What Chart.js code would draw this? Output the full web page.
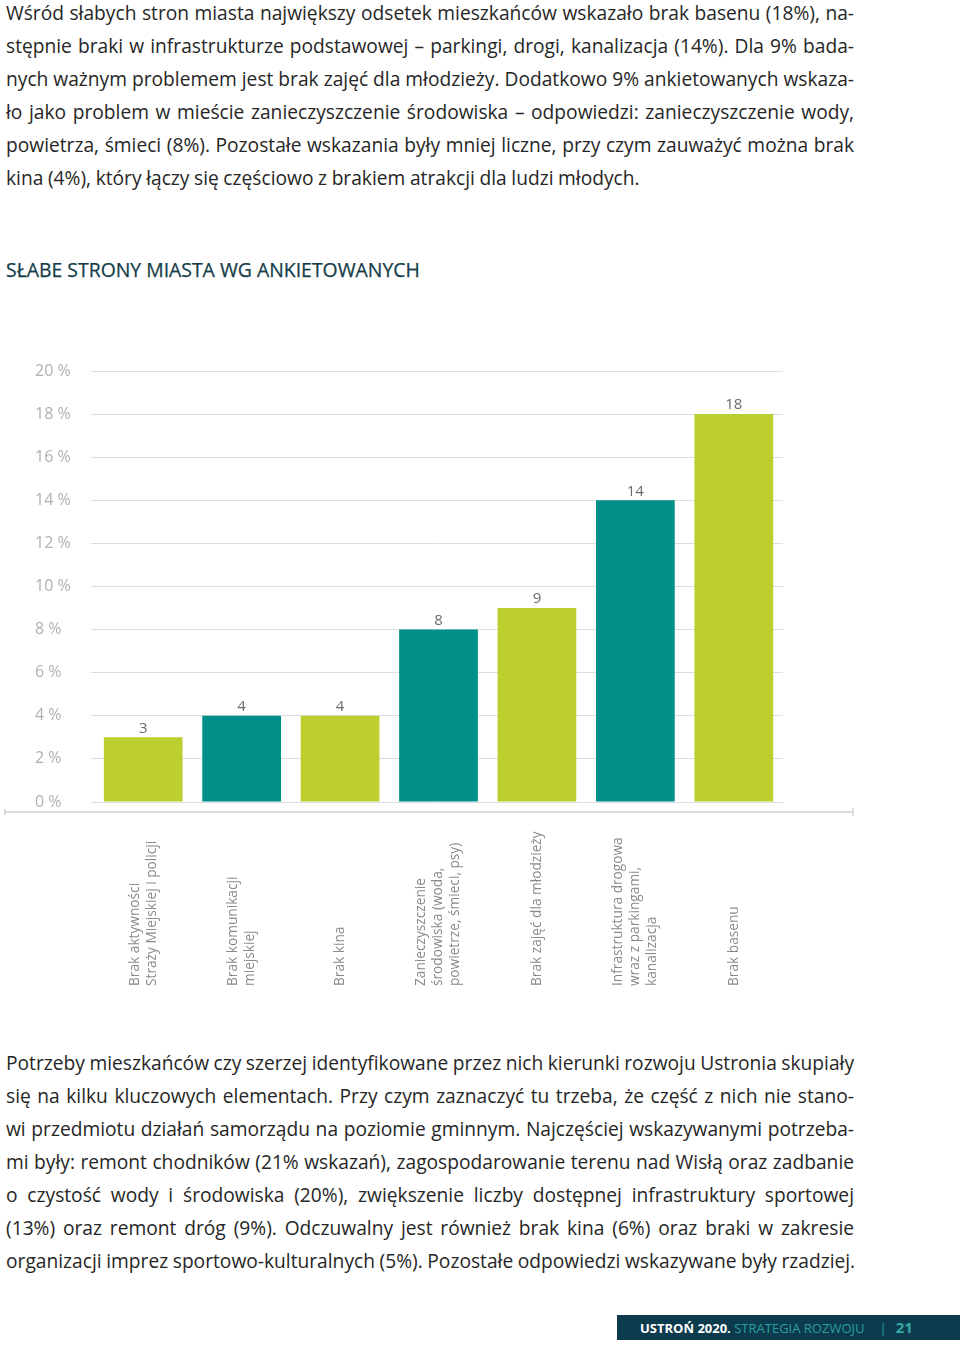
<!DOCTYPE html>
<html lang="pl">
<head>
<meta charset="utf-8">
<script src="https://cdn.jsdelivr.net/npm/chart.js@4.4.1/dist/chart.umd.min.js"></script>
<style>
    body {
        margin: 0;
        width: 960px;
        height: 1349px;
        position: relative;
        background: #ffffff;
        font-family: "Open Sans", sans-serif;
        color: #262626;
        overflow: hidden;
    }
    .tekst {
        position: absolute;
        left: 6px;
        width: 848px;
        font-size: 19.2px;
        line-height: 33px;
    }
    .tekst div {
        text-align: justify;
        text-align-last: justify;
        white-space: nowrap;
        word-spacing: -1px;
    }
    .tekst div.ostatni {
        text-align-last: left;
        word-spacing: -0.4px;
    }
    #tytul {
        position: absolute;
        left: 6px;
        top: 256px;
        font-size: 19.4px;
        color: #143c49;
        -webkit-text-stroke: 0.25px #143c49;
    }
    #wykres_box {
        position: absolute;
        left: 0;
        top: 340px;
        width: 860px;
        height: 650px;
    }
    #stopka {
        position: absolute;
        left: 617px;
        top: 1315px;
        width: 343px;
        height: 25px;
        background: #0c3b4d;
        font-size: 13px;
        line-height: 25px;
        white-space: nowrap;
    }
    #stopka b { color: #ffffff; margin-left: 23px; }
    #stopka .strategia { color: #2b9e9b; }
    #stopka .kreska { color: #2b9e9b; margin-left: 15px; }
    #stopka .strona { color: #35a9a5; font-weight: bold; font-size: 15px; margin-left: 9px; }
</style>
</head>
<body>

<div class="tekst" style="top: -4px;">
    <div>Wśród słabych stron miasta największy odsetek mieszkańców wskazało brak basenu (18%), na-</div>
    <div>stępnie braki w infrastrukturze podstawowej – parkingi, drogi, kanalizacja (14%). Dla 9% bada-</div>
    <div>nych ważnym problemem jest brak zajęć dla młodzieży. Dodatkowo 9% ankietowanych wskaza-</div>
    <div>ło jako problem w mieście zanieczyszczenie środowiska – odpowiedzi: zanieczyszczenie wody,</div>
    <div>powietrza, śmieci (8%). Pozostałe wskazania były mniej liczne, przy czym zauważyć można brak</div>
    <div class="ostatni">kina (4%), który łączy się częściowo z brakiem atrakcji dla ludzi młodych.</div>
</div>

<div id="tytul">SŁABE STRONY MIASTA WG ANKIETOWANYCH</div>

<div id="wykres_box">
    <canvas id="wykres"></canvas>
</div>

<div class="tekst" style="top: 1046px;">
    <div>Potrzeby mieszkańców czy szerzej identyfikowane przez nich kierunki rozwoju Ustronia skupiały</div>
    <div>się na kilku kluczowych elementach. Przy czym zaznaczyć tu trzeba, że część z nich nie stano-</div>
    <div>wi przedmiotu działań samorządu na poziomie gminnym. Najczęściej wskazywanymi potrzeba-</div>
    <div>mi były: remont chodników (21% wskazań), zagospodarowanie terenu nad Wisłą oraz zadbanie</div>
    <div>o czystość wody i środowiska (20%), zwiększenie liczby dostępnej infrastruktury sportowej</div>
    <div>(13%) oraz remont dróg (9%). Odczuwalny jest również brak kina (6%) oraz braki w zakresie</div>
    <div class="ostatni">organizacji imprez sportowo-kulturalnych (5%). Pozostałe odpowiedzi wskazywane były rzadziej.</div>
</div>

<div id="stopka"><b>USTROŃ 2020.</b> <span class="strategia">STRATEGIA ROZWOJU</span><span class="kreska">|</span><span class="strona">21</span></div>

<script>
// dane z wykresu
const kategorie = [
    ['Brak aktywności', 'Straży Miejskiej i policji'],
    ['Brak komunikacji', 'miejskiej'],
    ['Brak kina'],
    ['Zanieczyszczenie', 'środowiska (woda,', 'powietrze, śmieci, psy)'],
    ['Brak zajęć dla młodzieży'],
    ['Infrastruktura drogowa', 'wraz z parkingami,', 'kanalizacja'],
    ['Brak basenu']
];
const wartosci = [3, 4, 4, 8, 9, 14, 18];
const tickiY = [0, 2, 4, 6, 8, 10, 12, 14, 16, 18, 20];

const zielony = '#bccf2f';
const morski = '#008f89';
const kolory = wartosci.map((v, i) => i % 2 == 0 ? zielony : morski);

// liczby nad slupkami
const etykietyWartosci = {
    id: 'etykietyWartosci',
    afterDatasetsDraw(chart) {
        const ctx = chart.ctx;
        const meta = chart.getDatasetMeta(0);
        ctx.save();
        ctx.font = '15px "Open Sans"';
        ctx.fillStyle = '#6b6b6b';
        ctx.textAlign = 'center';
        ctx.textBaseline = 'middle';
        meta.data.forEach((bar, i) => {
            ctx.fillText(wartosci[i], bar.x, bar.y - 9);
        });
        ctx.restore();
    }
};

// podpisy kategorii pionowo + dolna linia
const podpisy = {
    id: 'podpisy',
    afterDraw(chart) {
        const ctx = chart.ctx;
        const skalaX = chart.scales.x;
        const dol = chart.chartArea.bottom;

        ctx.save();
        ctx.strokeStyle = '#d2d2d8';
        ctx.lineWidth = 1.5;
        ctx.beginPath();
        ctx.moveTo(5, dol + 10);
        ctx.lineTo(853, dol + 10);
        ctx.moveTo(853, dol + 6);
        ctx.lineTo(853, dol + 14);
        ctx.moveTo(5, dol + 7);
        ctx.lineTo(5, dol + 13);
        ctx.stroke();

        ctx.font = '13.7px "Open Sans"';
        ctx.fillStyle = '#8a8a8a';
        ctx.textAlign = 'left';
        ctx.textBaseline = 'middle';
        kategorie.forEach((linie, i) => {
            const x = skalaX.getPixelForValue(i);
            ctx.save();
            ctx.translate(x, dol + 184);
            ctx.rotate(-Math.PI / 2);
            linie.forEach((tekst, j) => {
                ctx.fillText(tekst, 0, (j - (linie.length - 1) / 2) * 17);
            });
            ctx.restore();
        });
        ctx.restore();
    }
};

new Chart(document.getElementById('wykres'), {
    type: 'bar',
    data: {
        labels: kategorie,
        datasets: [{
            data: wartosci,
            backgroundColor: kolory,
            borderWidth: 0,
            barPercentage: 0.8,
            categoryPercentage: 1
        }]
    },
    options: {
        responsive: true,
        maintainAspectRatio: false,
        animation: false,
        layout: {
            padding: { left: 35, right: 77, top: 31, bottom: 188 }
        },
        plugins: {
            legend: { display: false },
            tooltip: { enabled: false }
        },
        scales: {
            x: {
                display: false
            },
            y: {
                min: 0,
                max: 20,
                afterFit: function (skala) {
                    skala.width = 59;
                },
                afterBuildTicks: function (skala) {
                    skala.ticks = tickiY.map(v => ({ value: v }));
                },
                border: { display: false },
                grid: {
                    color: '#dcdce2',
                    lineWidth: 1,
                    tickLength: 3,
                    tickColor: '#dcdce2'
                },
                ticks: {
                    crossAlign: 'far',
                    color: '#b0b0b0',
                    font: { size: 16, family: 'Open Sans' },
                    callback: function (v) {
                        return v + ' %';
                    }
                }
            }
        }
    },
    plugins: [etykietyWartosci, podpisy]
});
</script>
</body>
</html>
